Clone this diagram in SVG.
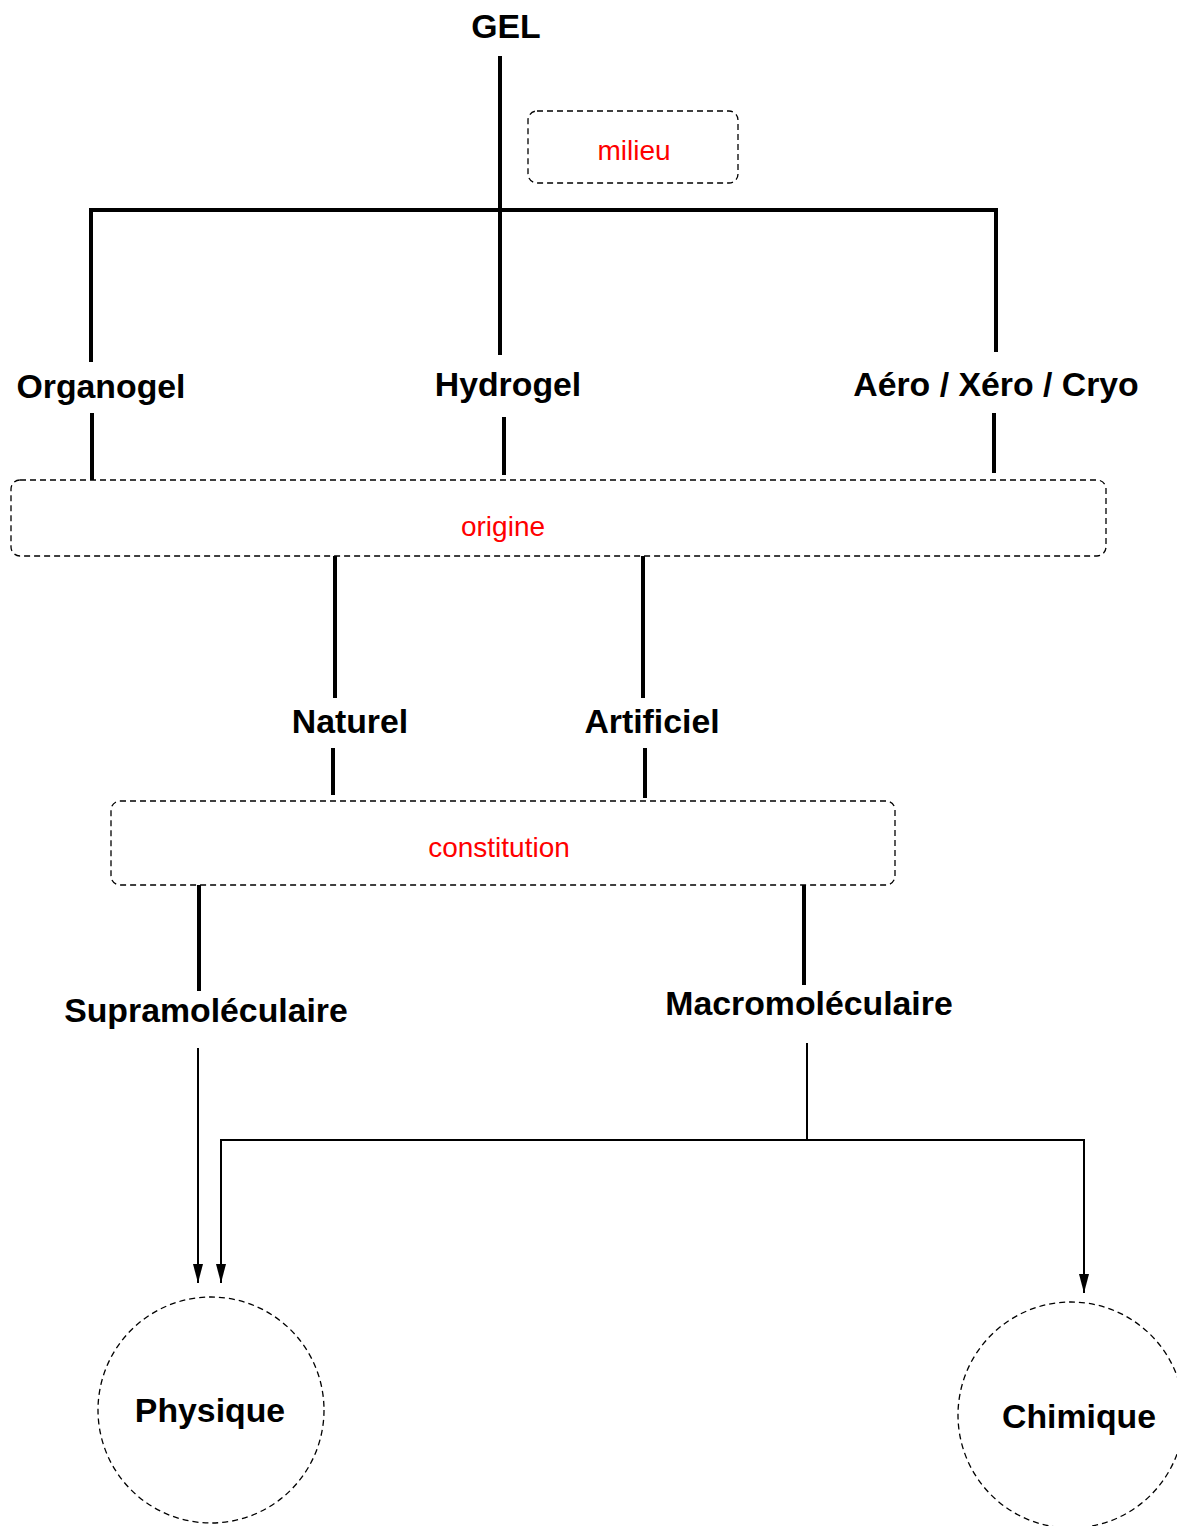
<svg xmlns="http://www.w3.org/2000/svg" width="1177" height="1526" viewBox="0 0 1177 1526">
<style>
.lbl{font-family:"Liberation Sans",Arial,sans-serif;font-weight:bold;font-size:33.8px;fill:#000;text-anchor:middle}
.red{font-family:"Liberation Sans",Arial,sans-serif;font-size:28px;fill:#ff0000;text-anchor:middle}
.box{fill:none;stroke:#000;stroke-width:1.3;stroke-dasharray:6,4}
.thick{stroke:#000;stroke-width:4;fill:none}
.thin{stroke:#000;stroke-width:2;fill:none}
</style>
<defs>
<marker id="ah" viewBox="0 0 19 10" refX="19" refY="5" markerWidth="19" markerHeight="10" markerUnits="userSpaceOnUse" orient="auto">
<path d="M0,0 L19,5 L0,10 Z" fill="#000"/>
</marker>
</defs>
<rect width="1177" height="1526" fill="#fff"/>
<g id="connectors">
<line class="thick" x1="500" y1="56" x2="500" y2="355"/>
<line class="thick" x1="89" y1="210" x2="998" y2="210"/>
<line class="thick" x1="91" y1="208" x2="91" y2="362"/>
<line class="thick" x1="996" y1="208" x2="996" y2="352"/>
<line class="thick" x1="92" y1="413" x2="92" y2="480"/>
<line class="thick" x1="504" y1="417" x2="504" y2="475"/>
<line class="thick" x1="994" y1="413" x2="994" y2="473"/>
<line class="thick" x1="335" y1="556" x2="335" y2="698"/>
<line class="thick" x1="643" y1="556" x2="643" y2="698"/>
<line class="thick" x1="333" y1="748" x2="333" y2="795"/>
<line class="thick" x1="645" y1="748" x2="645" y2="798"/>
<line class="thick" x1="199" y1="885" x2="199" y2="991"/>
<line class="thick" x1="804" y1="885" x2="804" y2="985"/>
<path class="thin" d="M198,1048 L198,1283" marker-end="url(#ah)"/>
<path class="thin" d="M807,1043 L807,1140"/>
<path class="thin" d="M807,1140 L221,1140 L221,1283" marker-end="url(#ah)"/>
<path class="thin" d="M807,1140 L1084,1140 L1084,1293" marker-end="url(#ah)"/>
</g>
<g id="gel"><text class="lbl" x="506" y="38">GEL</text></g>
<g id="milieu"><rect class="box" x="528" y="111" width="210" height="72" rx="9"/><text class="red" x="634" y="160">milieu</text></g>
<g id="organogel"><text class="lbl" x="101" y="398">Organogel</text></g>
<g id="hydrogel"><text class="lbl" x="508" y="396">Hydrogel</text></g>
<g id="aero"><text class="lbl" x="996" y="396">Aéro / Xéro / Cryo</text></g>
<g id="origine"><rect class="box" x="11" y="480" width="1095" height="76" rx="9"/><text class="red" x="503" y="536">origine</text></g>
<g id="naturel"><text class="lbl" x="350" y="733">Naturel</text></g>
<g id="artificiel"><text class="lbl" x="652" y="733">Artificiel</text></g>
<g id="constitution"><rect class="box" x="111" y="801" width="784" height="84" rx="9"/><text class="red" x="499" y="857">constitution</text></g>
<g id="supra"><text class="lbl" x="206" y="1022">Supramoléculaire</text></g>
<g id="macro"><text class="lbl" x="809" y="1015">Macromoléculaire</text></g>
<g id="physique"><circle class="box" cx="211" cy="1410" r="113"/><text class="lbl" x="210" y="1422">Physique</text></g>
<g id="chimique"><circle class="box" cx="1071" cy="1415" r="113"/><text class="lbl" x="1079" y="1428">Chimique</text></g>
</svg>
